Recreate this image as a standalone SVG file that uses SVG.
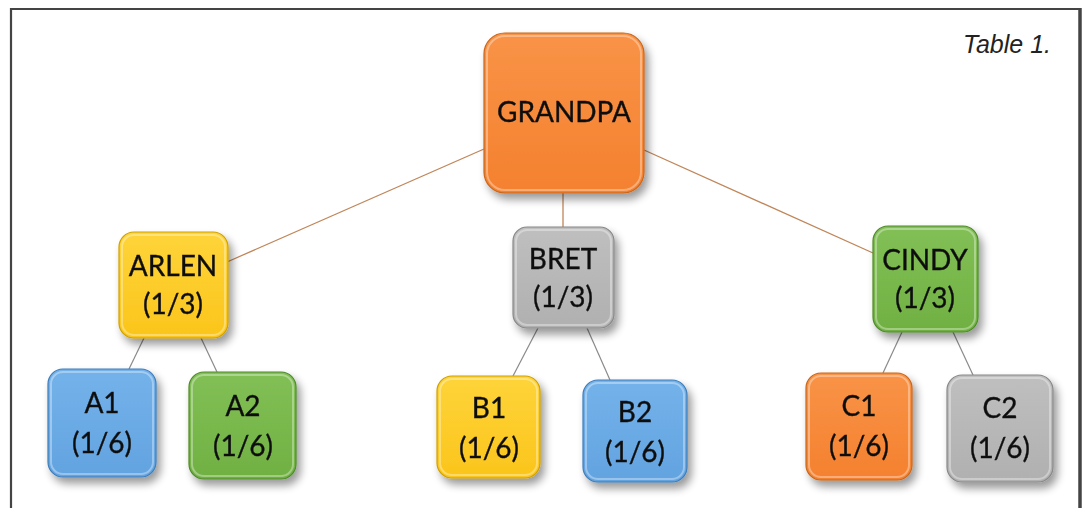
<svg xmlns="http://www.w3.org/2000/svg" width="1086" height="508" viewBox="0 0 1086 508">
  <defs>
    <filter id="shadow" x="-20%" y="-20%" width="150%" height="150%">
      <feGaussianBlur in="SourceAlpha" stdDeviation="4"/>
      <feOffset dx="4" dy="6" result="b"/>
      <feComponentTransfer><feFuncA type="linear" slope="0.4"/></feComponentTransfer>
      <feMerge><feMergeNode/><feMergeNode in="SourceGraphic"/></feMerge>
    </filter>
    <linearGradient id="gOrange" x1="0" y1="0" x2="0" y2="1">
      <stop offset="0" stop-color="#F99347"/>
      <stop offset="1" stop-color="#F4812F"/>
    </linearGradient>
    <linearGradient id="gYellow" x1="0" y1="0" x2="0" y2="1">
      <stop offset="0" stop-color="#FED43A"/>
      <stop offset="1" stop-color="#FBC51B"/>
    </linearGradient>
    <linearGradient id="gGray" x1="0" y1="0" x2="0" y2="1">
      <stop offset="0" stop-color="#BFBFBF"/>
      <stop offset="1" stop-color="#B0B0B0"/>
    </linearGradient>
    <linearGradient id="gGreen" x1="0" y1="0" x2="0" y2="1">
      <stop offset="0" stop-color="#82C056"/>
      <stop offset="1" stop-color="#70B042"/>
    </linearGradient>
    <linearGradient id="gBlue" x1="0" y1="0" x2="0" y2="1">
      <stop offset="0" stop-color="#74B2EA"/>
      <stop offset="1" stop-color="#62A3E0"/>
    </linearGradient>
    <style>
      .box { stroke-width: 1.2; }
      .shine { fill: none; stroke: #ffffff; stroke-opacity: 0.35; stroke-width: 2; }
      .orange { fill: url(#gOrange); stroke: #C8661C; }
      .yellow { fill: url(#gYellow); stroke: #CFA000; }
      .gray { fill: url(#gGray); stroke: #888888; }
      .green { fill: url(#gGreen); stroke: #4E8A2A; }
      .blue { fill: url(#gBlue); stroke: #3E7DBA; }
      .label { font-family: Lato, "Open Sans", sans-serif; font-size: 28px; fill: #111111; stroke: #111111; stroke-width: 0.35; text-anchor: middle; }
      .big { font-size: 28px; }
      .trunk { stroke: #C0865A; stroke-width: 1.3; fill: none; }
      .branch { stroke: #8A8A8A; stroke-width: 1.2; fill: none; }
      .frame { stroke: #444444; fill: none; }
      .caption { font-family: "Liberation Sans", Arial, sans-serif; font-style: italic; font-size: 25px; fill: #222222; text-anchor: end; }
    </style>
  </defs>

  <rect width="1086" height="508" fill="#ffffff"/>

  <!-- page frame (open at the bottom) -->
  <path class="frame" d="M11 510 V9 H1080" stroke-width="2.2"/>
  <path class="frame" d="M1080 8 V510" stroke-width="3.5"/>

  <text class="caption" x="1051" y="53">Table 1.</text>

  <!-- connectors -->
  <g id="connectors">
    <line class="trunk" x1="484" y1="149" x2="227" y2="262"/>
    <line class="trunk" x1="563" y1="193" x2="563" y2="227"/>
    <line class="trunk" x1="644" y1="150" x2="873" y2="253"/>
    <line class="branch" x1="144" y1="338" x2="129" y2="369"/>
    <line class="branch" x1="201" y1="338" x2="217" y2="372"/>
    <line class="branch" x1="538" y1="328" x2="513" y2="376"/>
    <line class="branch" x1="587" y1="328" x2="610" y2="380"/>
    <line class="branch" x1="902" y1="332" x2="883" y2="373"/>
    <line class="branch" x1="953" y1="332" x2="973" y2="375"/>
  </g>

  <g id="grandpa" filter="url(#shadow)">
    <rect class="box orange" x="484" y="33" width="160" height="160" rx="21"/>
    <rect class="shine" x="487" y="36" width="154" height="154" rx="18"/>
    <text class="label big" x="564" y="122">GRANDPA</text>
  </g>

  <g id="arlen" filter="url(#shadow)">
    <rect class="box yellow" x="119" y="232" width="109" height="106" rx="15"/>
    <rect class="shine" x="122" y="235" width="103" height="100" rx="12"/>
    <text class="label" x="173" y="276">ARLEN</text>
    <text class="label" x="173" y="314">(1/3)</text>
  </g>

  <g id="bret" filter="url(#shadow)">
    <rect class="box gray" x="513" y="227" width="101" height="101" rx="14"/>
    <rect class="shine" x="516" y="230" width="95" height="95" rx="11"/>
    <text class="label" x="563" y="269">BRET</text>
    <text class="label" x="563" y="307">(1/3)</text>
  </g>

  <g id="cindy" filter="url(#shadow)">
    <rect class="box green" x="873" y="226" width="105" height="106" rx="15"/>
    <rect class="shine" x="876" y="229" width="99" height="100" rx="12"/>
    <text class="label" x="925" y="270">CINDY</text>
    <text class="label" x="925" y="308">(1/3)</text>
  </g>

  <g id="a1" filter="url(#shadow)">
    <rect class="box blue" x="48" y="369" width="108" height="108" rx="15"/>
    <rect class="shine" x="51" y="372" width="102" height="102" rx="12"/>
    <text class="label" x="102" y="413">A1</text>
    <text class="label" x="102" y="453">(1/6)</text>
  </g>

  <g id="a2" filter="url(#shadow)">
    <rect class="box green" x="189" y="372" width="107" height="107" rx="15"/>
    <rect class="shine" x="192" y="375" width="101" height="101" rx="12"/>
    <text class="label" x="243" y="416">A2</text>
    <text class="label" x="243" y="456">(1/6)</text>
  </g>

  <g id="b1" filter="url(#shadow)">
    <rect class="box yellow" x="437" y="376" width="103" height="102" rx="15"/>
    <rect class="shine" x="440" y="379" width="97" height="96" rx="12"/>
    <text class="label" x="489" y="418">B1</text>
    <text class="label" x="489" y="458">(1/6)</text>
  </g>

  <g id="b2" filter="url(#shadow)">
    <rect class="box blue" x="583" y="380" width="104" height="102" rx="15"/>
    <rect class="shine" x="586" y="383" width="98" height="96" rx="12"/>
    <text class="label" x="635" y="422">B2</text>
    <text class="label" x="635" y="462">(1/6)</text>
  </g>

  <g id="c1" filter="url(#shadow)">
    <rect class="box orange" x="806" y="373" width="106" height="107" rx="15"/>
    <rect class="shine" x="809" y="376" width="100" height="101" rx="12"/>
    <text class="label" x="859" y="416">C1</text>
    <text class="label" x="859" y="456">(1/6)</text>
  </g>

  <g id="c2" filter="url(#shadow)">
    <rect class="box gray" x="947" y="375" width="106" height="107" rx="15"/>
    <rect class="shine" x="950" y="378" width="100" height="101" rx="12"/>
    <text class="label" x="1000" y="418">C2</text>
    <text class="label" x="1000" y="458">(1/6)</text>
  </g>
</svg>
